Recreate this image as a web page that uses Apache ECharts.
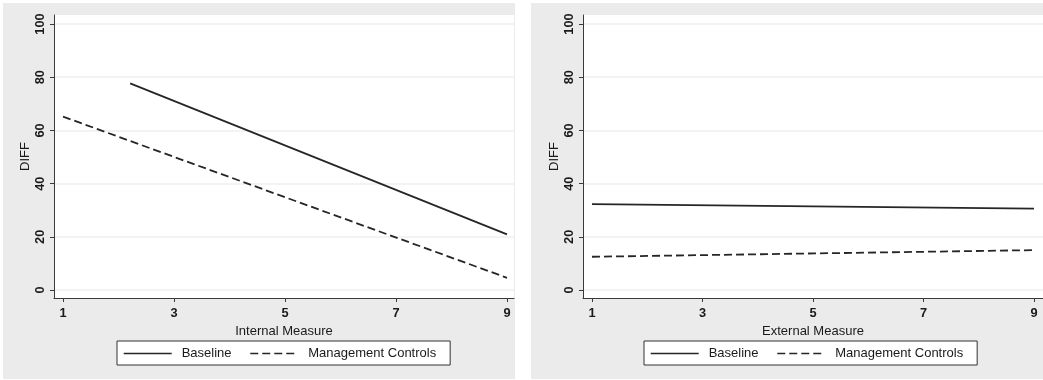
<!DOCTYPE html>
<html>
<head>
<meta charset="utf-8">
<script src="https://cdn.jsdelivr.net/npm/echarts@6/dist/echarts.min.js"></script>
<style>
html,body{margin:0;padding:0;background:#fff;}
#chart{width:1043px;height:380px;}
</style>
</head>
<body>
<div id="chart"></div>
<script>
// ---- data ----
var seriesNames = ['Baseline', 'Management Controls'];
var xTicks = [1, 3, 5, 7, 9];
var yTicks = [0, 20, 40, 60, 80, 100];
var xTitles = ['Internal Measure', 'External Measure'];
var yTitle = 'DIFF';

var internalBaselineX = [2.21, 9];
var internalBaselineY = [77.7, 20.9];
var internalControlsX = [1, 9];
var internalControlsY = [65.2, 4.6];

var externalBaselineX = [1, 9];
var externalBaselineY = [32.3, 30.6];
var externalControlsX = [1, 9];
var externalControlsY = [12.5, 15.0];

function pairs(xs, ys) { return xs.map(function (x, i) { return [x, ys[i]]; }); }

var FONT = '"Liberation Sans", Arial, Helvetica, sans-serif';
var TXT = '#1a1a1a';
var AX = '#3a3a3a';
var PANEL = '#ebebeb';
var GRIDLINE = '#edf0f0';

function xAxis(idx, title, min, max) {
  return {
    type: 'value', gridIndex: idx, min: min, max: max,
    name: title, nameLocation: 'middle', nameGap: 19,
    nameTextStyle: { color: TXT, fontSize: 13, fontFamily: FONT },
    axisLine: { show: true, onZero: false, lineStyle: { color: AX, width: 1 } },
    axisTick: { show: true, length: 4, customValues: xTicks, lineStyle: { color: AX } },
    axisLabel: { customValues: xTicks, margin: 9, color: TXT, fontSize: 12.8, fontFamily: FONT, fontWeight: 'bold' },
    splitLine: { show: false }
  };
}
function yAxis(idx) {
  return {
    type: 'value', gridIndex: idx, min: -3, max: 103.4,
    name: yTitle, nameLocation: 'middle', nameGap: 22, nameRotate: 90,
    nameTextStyle: { color: TXT, fontSize: 13, fontFamily: FONT },
    axisLine: { show: true, onZero: false, lineStyle: { color: AX, width: 1 } },
    axisTick: { show: true, length: 4, customValues: yTicks, lineStyle: { color: AX } },
    axisLabel: { customValues: yTicks, rotate: 90, margin: 7, color: TXT, fontSize: 12.8, fontFamily: FONT, fontWeight: 'bold' },
    splitLine: { show: true, lineStyle: { color: GRIDLINE, width: 1.5 } }
  };
}
function line(name, idx, data, dashed) {
  return {
    name: name, type: 'line', xAxisIndex: idx, yAxisIndex: idx,
    data: data, symbol: 'none', silent: true, animation: false,
    lineStyle: { color: '#262626', width: 1.8, type: dashed ? [8, 4] : 'solid' },
    itemStyle: { color: '#262626' }
  };
}
function legend(left) {
  return {
    data: seriesNames, left: left, top: 341, orient: 'horizontal',
    itemWidth: 48, itemHeight: 14, itemGap: 18,
    padding: [6, 14, 5, 6],
    backgroundColor: '#fff', borderColor: '#333', borderWidth: 1,
    itemStyle: { opacity: 0 },
    lineStyle: { width: 1.4 },
    textStyle: { color: TXT, fontSize: 13, fontFamily: FONT, padding: [0, 0, 0, 5] },
    selectedMode: false
  };
}

var chart = echarts.init(document.getElementById('chart'), null, { renderer: 'canvas' });
chart.setOption({
  backgroundColor: '#fff',
  animation: false,
  graphic: [
    { type: 'rect', z: -10, silent: true, shape: { x: 3, y: 3, width: 512, height: 376 }, style: { fill: PANEL } },
    { type: 'rect', z: -10, silent: true, shape: { x: 531, y: 3, width: 512, height: 376 }, style: { fill: PANEL } }
  ],
  grid: [
    { left: 54, top: 15, width: 460, height: 283, show: true, backgroundColor: '#fff', borderWidth: 0, containLabel: false },
    { left: 583, top: 15, width: 460, height: 283, show: true, backgroundColor: '#fff', borderWidth: 0, containLabel: false }
  ],
  xAxis: [xAxis(0, xTitles[0], 0.838, 9.126), xAxis(1, xTitles[1], 0.837, 9.163)],
  yAxis: [yAxis(0), yAxis(1)],
  legend: [legend(117), legend(644)],
  series: [
    line(seriesNames[0], 0, pairs(internalBaselineX, internalBaselineY), false),
    line(seriesNames[1], 0, pairs(internalControlsX, internalControlsY), true),
    line(seriesNames[0], 1, pairs(externalBaselineX, externalBaselineY), false),
    line(seriesNames[1], 1, pairs(externalControlsX, externalControlsY), true)
  ]
});
</script>
</body>
</html>
